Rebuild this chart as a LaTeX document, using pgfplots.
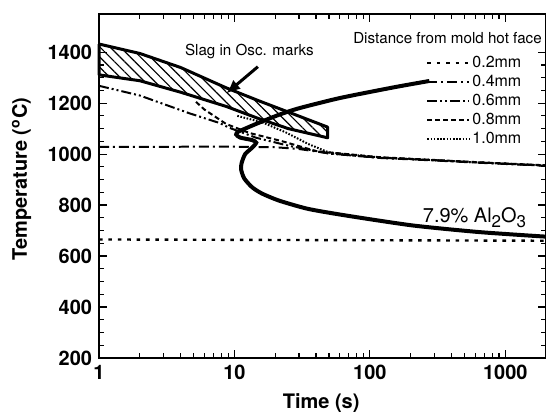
\documentclass[border=0pt]{standalone}
\usepackage{fontspec}
\setmainfont{TeX Gyre Heros}
\usepackage{pgfplots}
\pgfplotsset{compat=1.18}
\usetikzlibrary{patterns.meta,arrows.meta}
\begin{document}
\begin{tikzpicture}
\begin{axis}[
  name=ax,
  scale only axis,
  width=223.9pt, height=172.3pt,
  xmode=log, xmin=1, xmax=2000,
  ymin=200, ymax=1550,
  xtick={1,10,100,1000}, xticklabels={1,10,100,1000},
  ytick={200,400,600,800,1000,1200,1400},
  yticklabels={200,400,600,800,1000,1200,1400},
  minor y tick num=3,
  tick align=inside,
  major tick length=4pt, minor tick length=2.5pt,
  axis line style={line width=0.8pt},
  every tick/.style={line width=0.6pt, black},
  /pgf/number format/assume math mode=true,
  /pgf/number format/1000 sep={},
  tick label style={font=\fontsize{10}{12}\selectfont\bfseries},
  xlabel={Time (s)},
  ylabel={Temperature (\textsuperscript{o}C)},
  label style={font=\fontsize{10}{12}\selectfont\bfseries},
  xlabel style={at={(axis description cs:0.497,-0.13)}, anchor=center},
  ylabel style={at={(axis description cs:-0.173,0.52)}, anchor=center},
  clip=false,
  legend style={at={(axis description cs:0.731,0.887)}, anchor=north west,
    draw=none, fill=none, font=\fontsize{8}{9}\selectfont, row sep=0pt,
    inner sep=0pt, nodes={inner xsep=1pt, inner ysep=0.6pt, text height=6.5pt, text depth=1.8pt}},
  legend cell align=left,
  legend image code/.code={\draw[#1] (0pt,0pt) -- (21pt,0pt);},
]
% 0.2 mm
\addplot[line width=1.2pt, dash pattern=on 1.8pt off 2.9pt] coordinates {(1,665) (2000,660)};
\addlegendentry{0.2mm}
% 0.4 mm
\addplot[line width=1pt, dash pattern=on 5pt off 2pt on 1pt off 2pt] coordinates {
(1,1028) (5,1029) (10,1029) (20,1027) (30,1020) (50,1003) (117,985) (300,975) (642,966) (2000,954)};
\addlegendentry{0.4mm}
% 0.6 mm
\addplot[line width=1pt, dash pattern=on 5pt off 1.5pt on 1pt off 1.5pt on 1pt off 1.5pt] coordinates {
(1,1268) (2,1230) (4.66,1160) (7.77,1122) (9.2,1103) (14.5,1064) (25.5,1032) (50,1002) (117,986) (300,976) (642,967) (2000,955)};
\addlegendentry{0.6mm}
% 0.8 mm
\addplot[line width=1pt, dash pattern=on 2.5pt off 1.5pt] coordinates {
(5.2,1205) (6,1175) (8.7,1118) (12.9,1083) (22.7,1050) (40,1012) (117,988) (300,977) (642,968) (2000,956)};
\addlegendentry{0.8mm}
% 1.0 mm
\addplot[line width=1pt, dash pattern=on 0.8pt off 0.8pt] coordinates {
(10.5,1150) (16,1125) (24,1085) (35,1040) (50,1006) (117,987) (300,976) (642,967) (2000,955)};
\addlegendentry{1.0mm}
% hatched band
\addplot[forget plot, line width=1.5pt, line join=round,
  pattern={Lines[angle=-45, distance=3.6pt, line width=0.6pt]}] coordinates {
(1,1432) (2,1395) (4,1340) (8.7,1260) (15,1210) (25,1165) (48.8,1106)
(48.8,1064) (25,1100) (15,1140) (8.7,1187) (4,1243) (2,1288) (1,1311) (1,1432)};
% 7.9% Al2O3 curve
\addplot[forget plot, line width=2pt, smooth, tension=0.4] coordinates {
(275,1287) (150,1262) (60,1220) (30,1180) (21.5,1155) (15,1122) (12,1100) (10.6,1087) (10.3,1077)
(11,1065) (13.5,1055) (14.5,1045) (13.5,1025) (12,1000) (11.3,965) (11.2,940) (11.8,905)
(13.5,870) (16,845) (21.5,817) (35,785) (66.7,759) (207,720) (642,694) (2000,676)};
% annotations
\draw[-{Latex[length=7pt,width=6pt]}, line width=1.5pt] (axis cs:14.9,1343) -- (axis cs:8.7,1238);
\node[font=\fontsize{7.6}{9}\selectfont] at (axis cs:12.9,1402) {Slag in Osc. marks};
\node[font=\fontsize{7.6}{9}\selectfont, anchor=east, inner sep=0pt] at (axis cs:1872,1454) {Distance from mold hot face};
\node[font=\fontsize{10}{12}\selectfont, anchor=base west, inner sep=0pt] at (axis cs:245,733)
  {7.9\% Al\raisebox{-0.55ex}{\fontsize{8.5}{9}\selectfont 2}O\raisebox{-0.55ex}{\fontsize{8.5}{9}\selectfont 3}};
\end{axis}
\pgfresetboundingbox
\path ([shift={(-49.6pt,-28.4pt)}]ax.south west) rectangle ([shift={(0pt,7pt)}]ax.north east);
\end{tikzpicture}
\end{document}
